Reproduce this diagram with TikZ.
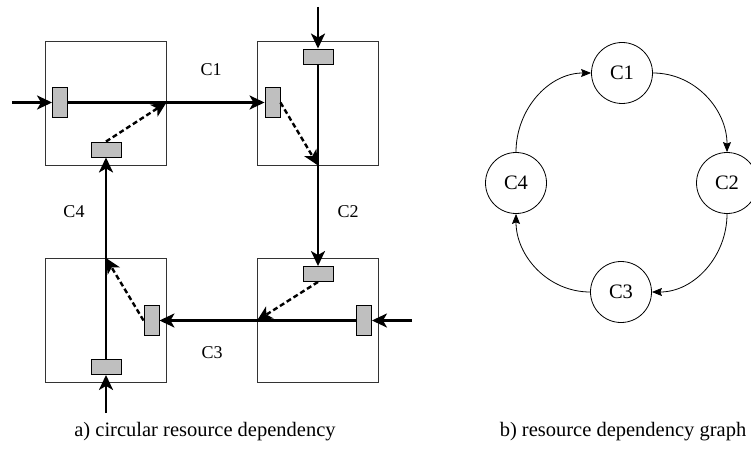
\documentclass[tikz,border=0pt]{standalone}
\usepackage{fontspec}
\setmainfont{Liberation Serif}
\usetikzlibrary{arrows.meta}

\tikzset{
  cell/.style={draw=black!80, line width=0.9pt, minimum width=121pt, minimum height=124pt, inner sep=0pt},
  hslot/.style={draw=black, line width=0.9pt, fill=black!25, minimum width=30pt, minimum height=15pt, inner sep=0pt},
  vslot/.style={draw=black, line width=0.9pt, fill=black!25, minimum width=15pt, minimum height=30pt, inner sep=0pt},
  hold/.style={line width=2.4pt, -{Stealth[length=15pt, width=14pt, inset=4pt]}},
  want/.style={line width=2.4pt, dash pattern=on 5pt off 3pt, -{Stealth[length=15pt, width=14pt, inset=4pt]}},
  chan/.style={font=\fontsize{18}{21}\selectfont, anchor=base},
  caption/.style={font=\fontsize{20.5}{24}\selectfont, anchor=base},
  gnode/.style={draw, circle, line width=0.8pt, minimum size=61pt, inner sep=0pt, font=\fontsize{20.5}{24}\selectfont},
  garc/.style={line width=0.8pt, -{Stealth[length=10pt, width=8pt, inset=1.5pt]}}
}

\begin{document}
\begin{tikzpicture}[x=1pt, y=-1pt]
\useasboundingbox (0,0) rectangle (751,449);

% four routers
\node[cell] (b1) at (105.5,103) {};
\node[cell] (b2) at (318,103) {};
\node[cell] (b3) at (105.5,320.5) {};
\node[cell] (b4) at (318,320.5) {};

% buffers
\node[vslot] (s1a) at (60,102.5) {};
\node[hslot] (s1b) at (106,149.5) {};
\node[vslot] (s2a) at (272.5,102.5) {};
\node[hslot] (s2b) at (318,56.5) {};
\node[hslot] (s4a) at (318,274) {};
\node[vslot] (s4b) at (364,320.5) {};
\node[vslot] (s3a) at (151.5,320.5) {};
\node[hslot] (s3b) at (106,367) {};

% injection points
\coordinate (in1) at (12,102.5);
\coordinate (in2) at (318,7);
\coordinate (in4) at (412,320.5);
\coordinate (in3) at (106,413);

% held channels
\draw[hold] (in1) -- (s1a.west);
\draw[hold] (s1a.east) -- (s2a.west);
\draw[hold] (in2) -- (s2b.north);
\draw[hold] (s2b.south) -- (s4a.north);
\draw[hold] (in4) -- (s4b.east);
\draw[hold] (s4b.west) -- (s3a.east);
\draw[hold] (in3) -- (s3b.south);
\draw[hold] (s3b.north) -- (s1b.south);

% requested channels
\draw[want] (s1b.north) -- (b1.east |- s1a.center);
\draw[want] (s2a.east) -- (s2b.center |- b2.south);
\draw[want] (s4a.south) -- (b4.west |- s4b.center);
\draw[want] (s3a.west) -- (s3b.center |- b3.north);

% channel names
\node[chan] (l1) at (211,76) {C1};
\node[chan] (l2) at (348,217) {C2};
\node[chan] (l3) at (212,358) {C3};
\node[chan] (l4) at (74,217) {C4};

% dependency graph
\node[gnode] (g1) at (622,73) {C1};
\node[gnode] (g2) at (727,183) {C2};
\node[gnode] (g3) at (621,292) {C3};
\node[gnode] (g4) at (516,183) {C4};
\draw[garc] (g1) to[out=0, in=90] (g2);
\draw[garc] (g2) to[out=-90, in=0] (g3);
\draw[garc] (g3) to[out=180, in=-90] (g4);
\draw[garc] (g4) to[out=90, in=180] (g1);

% captions
\node[caption] (ca) at (205,436) {a) circular resource dependency};
\node[caption] (cb) at (623,436) {b) resource dependency graph};
\end{tikzpicture}
\end{document}
